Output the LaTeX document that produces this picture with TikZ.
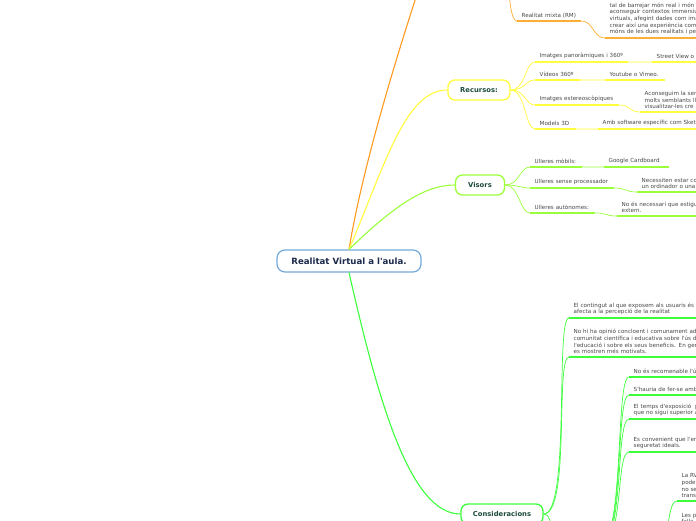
\documentclass[tikz,border=0pt]{standalone}
\usepackage{fontspec}
\setmainfont{DejaVu Sans}[Ligatures=TeXOff]
\usepackage{tikz}
\usetikzlibrary{positioning}
\definecolor{cvline}{HTML}{72A9D8}
\definecolor{cvtext}{HTML}{1B2A4A}
\definecolor{toptext}{HTML}{1E4B3A}
\definecolor{leafgray}{HTML}{474747}
\definecolor{orbr}{HTML}{FF9A1F}
\definecolor{orleaf}{HTML}{FFAE35}
\definecolor{yelbr}{HTML}{FFFF3C}
\definecolor{yelpale}{HTML}{FFFFB5}
\definecolor{limebr}{HTML}{9BFF3A}
\definecolor{limepale}{HTML}{D9FFB8}
\definecolor{grnbr}{HTML}{3CFF3C}
\newcommand{\leaffont}{\fontsize{5.6}{6.6}\selectfont}
\tikzset{
  central/.style={draw=cvline,line width=1.2pt,rounded corners=8pt,fill=white,text=cvtext,
    font=\fontsize{8.6}{10}\selectfont\bfseries,minimum width=144pt,minimum height=22pt},
  topic/.style={draw=#1,line width=1.3pt,rounded corners=7pt,fill=white,text=toptext,
    font=\fontsize{6.8}{8}\selectfont\bfseries,minimum height=20pt},
  uline/.style={draw=#1,line width=1.6pt},
  leaf/.style={anchor=south west,align=left,inner xsep=4.5pt,inner ysep=3pt,text=leafgray,font=\leaffont,
    append after command={(\tikzlastnode.south west) edge[uline=#1] (\tikzlastnode.south east)}},
  branch/.style={draw=#1,line width=1.1pt},
  twig/.style={draw=#1,line width=0.7pt},
}

\begin{document}
\begin{tikzpicture}[x=1pt,y=-1pt]
    \useasboundingbox (0,0) rectangle (696,520);
    \clip (0,0) rectangle (696,520);
    \node[central] (cv) at (349,261) {Realitat Virtual a l'aula.};

    % realitat mixta (parent off the top)
    \coordinate (orP) at (425,-30);
    \coordinate (orQ) at (488,-60);
    \node[leaf=orleaf,text width=55pt] (rm) at (517,21) {Realitat mixta (RM)};
    \node[leaf=orleaf,text width=120pt] (rmx) at (605,38) {tal de barrejar món real i món v\\aconseguir contextos immersiu\\virtuals, afegint dades com ima\\crear així una experiència comp\\móns de les dues realitats i pe};
    \draw[branch=orbr] (cv.north) .. controls (362,170) and (395,60) .. (orP);
    \draw[twig=orleaf] (orQ) .. controls +(25,0) and +(-12,0) .. (rm.south west);
    \draw[twig=orleaf] (rm.south east) .. controls +(12,0) and +(-12,0) .. (rmx.south west);

    % recursos
    \node[topic=yelbr,minimum width=62pt] (rec) at (479,90) {Recursos:};
    \draw[branch=yelbr] (cv.north) .. controls (385,165) and (405,90) .. (rec.west);
    \node[leaf=yelbr,text width=84pt] (pan) at (535,62) {Imatges panoràmiques i 360º};
    \node[leaf=yelbr,text width=120pt] (sv) at (652,62) {Street View o I};
    \node[leaf=yelbr,text width=36pt] (vid) at (535,80) {Vídeos 360º};
    \node[leaf=yelbr,text width=51pt] (yt) at (605,80) {Youtube o Vimeo.};
    \node[leaf=yelbr,text width=75pt] (est) at (535,105) {Imatges estereoscòpiques};
    \node[leaf=yelbr,text width=120pt] (estx) at (640,112) {Aconseguim la ser\\molts semblants ll\\visualitzar-les cre};
    \node[leaf=yelbr,text width=32pt] (mod) at (535,129) {Models 3D};
    \node[leaf=yelbr,text width=120pt] (sw) at (598,129) {Amb software específic com Sketc};
    \draw[twig=yelbr] (rec.east) .. controls +(15,0) and +(-10,0) .. (pan.south west);
    \draw[twig=yelbr] (rec.east) .. controls +(15,0) and +(-10,0) .. (vid.south west);
    \draw[twig=yelbr] (rec.east) .. controls +(15,0) and +(-10,0) .. (est.south west);
    \draw[twig=yelbr] (rec.east) .. controls +(15,0) and +(-10,0) .. (mod.south west);
    \draw[uline=yelpale] (pan.south east) -- (sv.south west);
    \draw[uline=yelpale] (vid.south east) -- (yt.south west);
    \draw[twig=yelbr] (est.south east) .. controls +(12,0) and +(-12,0) .. (estx.south west);
    \draw[uline=yelpale] (mod.south east) -- (sw.south west);

    % visors
    \node[topic=limebr,minimum width=49pt] (vis) at (480,185) {Visors};
    \draw[branch=limebr] (cv.north) .. controls (395,205) and (425,185) .. (vis.west);
    \node[leaf=limebr,text width=43pt] (mob) at (530,167) {Ulleres mòbils:};
    \node[leaf=limebr,text width=56pt] (gc) at (604,167) {Google Cardboard};
    \node[leaf=limebr,text width=75pt] (sp) at (530,188) {Ulleres sense processador};
    \node[leaf=limebr,text width=120pt] (spx) at (637,192) {Necessiten estar con\\un ordinador o una c};
    \node[leaf=limebr,text width=56pt] (aut) at (530,213) {Ulleres autònomes:};
    \node[leaf=limebr,text width=120pt] (autx) at (617,216) {No és necessari que estigui\\extern.};
    \draw[twig=limebr] (vis.east) .. controls +(14,0) and +(-10,0) .. (mob.south west);
    \draw[twig=limebr] (vis.east) .. controls +(14,0) and +(-10,0) .. (sp.south west);
    \draw[twig=limebr] (vis.east) .. controls +(14,0) and +(-10,0) .. (aut.south west);
    \draw[uline=limepale] (mob.south east) -- (gc.south west);
    \draw[twig=limebr] (sp.south east) .. controls +(12,0) and +(-12,0) .. (spx.south west);
    \draw[twig=limebr] (aut.south east) .. controls +(12,0) and +(-12,0) .. (autx.south west);

    % consideracions (sub nodes below the page)
    \node[topic=grnbr,minimum width=82pt] (cons) at (502,514) {Consideracions};
    \draw[branch=grnbr] (cv.south) .. controls (378,400) and (410,514) .. (cons.west);
    \node[leaf=grnbr,text width=140pt] (cont) at (569,318) {El contingut al que exposem als usuaris és c\\afecta a la percepció de la realitat};
    \node[leaf=grnbr,text width=140pt] (opi) at (569,357) {No hi ha opinió concloent i comunament ado\\comunitat científica i educativa sobre l'ús de\\l'educació i sobre els seus beneficis. En gene\\es mostren més motivats.};
    \draw[twig=grnbr] (cons.east) .. controls +(27,0) and +(-14,0) .. (cont.south west);
    \draw[twig=grnbr] (cons.east) .. controls +(27,0) and +(-14,0) .. (opi.south west);
    \coordinate (cdown) at (556,548);
    \draw[twig=grnbr] (cons.east) .. controls +(12,0) and +(-8,0) .. (cdown);
    \coordinate (riscP) at (598,548);
    \node[leaf=grnbr,text width=100pt] (nrec) at (629,377) {No és recomenable l'ú};
    \node[leaf=grnbr,text width=100pt] (fer) at (629,395) {S'hauria de fer-se amb};
    \node[leaf=grnbr,text width=100pt] (temps) at (629,419) {El temps d'exposició \ p\\que no sigui superior a};
    \node[leaf=grnbr,text width=100pt] (conv) at (629,452) {Es convenient que l'en\\seguretat ideals.};
    \draw[twig=grnbr] (riscP) .. controls +(27,0) and +(-14,0) .. (nrec.south west);
    \draw[twig=grnbr] (riscP) .. controls +(27,0) and +(-14,0) .. (fer.south west);
    \draw[twig=grnbr] (riscP) .. controls +(27,0) and +(-14,0) .. (temps.south west);
    \draw[twig=grnbr] (riscP) .. controls +(27,0) and +(-14,0) .. (conv.south west);
    \coordinate (laP) at (650,556);
    \node[leaf=grnbr,text width=60pt] (larv) at (677,501) {La RV\\poden\\no se\\trans};
    \node[leaf=grnbr,text width=60pt] (lesp) at (677,527) {Les p\\falla};
    \draw[twig=grnbr] (laP) .. controls +(22,0) and +(-12,0) .. (larv.south west);
    \draw[twig=grnbr] (laP) .. controls +(22,0) and +(-12,0) .. (lesp.south west);
\end{tikzpicture}
\end{document}
